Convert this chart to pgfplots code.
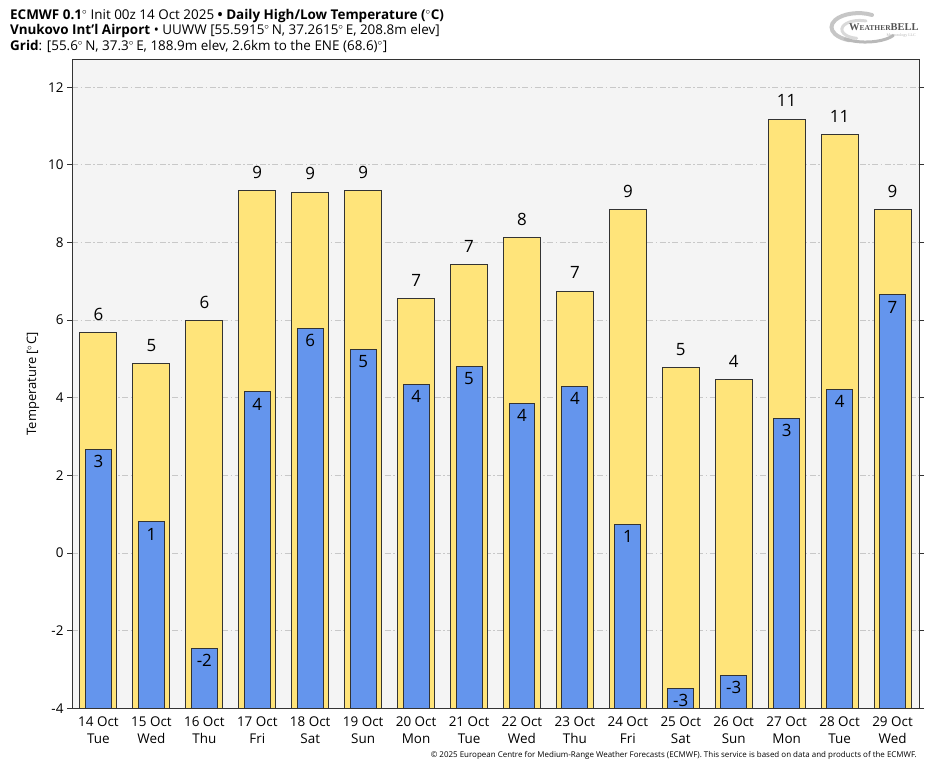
\documentclass[border=0pt]{standalone}
\usepackage{pgfplots}
\usepackage{pgfplotstable}
\pgfplotsset{compat=1.18}
\usepackage{fontspec}
\setmainfont{Open Sans}
\newfontfamily\logofont{Liberation Serif}

\definecolor{hiyel}{HTML}{FFE47A}
\definecolor{loblu}{HTML}{6495ED}
\definecolor{bgpan}{HTML}{F4F4F4}
\definecolor{gridc}{HTML}{C8C8C8}
\definecolor{edgec}{HTML}{333333}

\newcommand{\dg}{$^{\circ}$}

% daily high / low in degC, labels are the rounded values shown on the chart
\pgfplotstableread{
x  h      hl  l      ll
0  5.68   6   2.68   3
1  4.88   5   0.80   1
2  5.99   6  -2.46  -2
3  9.34   9   4.15   4
4  9.30   9   5.79   6
5  9.34   9   5.25   5
6  6.55   7   4.34   4
7  7.44   7   4.81   5
8  8.12   8   3.85   4
9  6.75   7   4.30   4
10 8.84   9   0.74   1
11 4.77   5  -3.49  -3
12 4.47   4  -3.15  -3
13 11.18  11  3.47   3
14 10.77  11  4.21   4
15 8.84   9   6.65   7
}\temps

\begin{document}
\begin{tikzpicture}[x=1bp,y=1bp]
\path (0,0) rectangle (935,768);

% header, one block of three lines
\node[anchor=north west, inner sep=0pt, align=left, font=\fontsize{13.5}{15.6}\selectfont] at (10,759)
  {\textbf{ECMWF 0.1}\dg{} Init 00z 14 Oct 2025 \textbf{•} \textbf{Daily High/Low Temperature (\dg C)}\\
   \textbf{Vnukovo Int'l Airport} • UUWW [55.5915\dg\,N, 37.2615\dg\,E, 208.8m elev]\\
   \textbf{Grid}: [55.6\dg\,N, 37.3\dg\,E, 188.9m elev, 2.6km to the ENE (68.6)\dg]};

% logo
\begin{scope}[line cap=round]
  \draw[gray!45, line width=4bp] (872,753) arc[start angle=60, end angle=250, x radius=27, y radius=14];
  \draw[gray!30, line width=3bp] (866,747) arc[start angle=70, end angle=260, x radius=18, y radius=9];
  \draw[gray!55, line width=3bp] (845,729) arc[start angle=230, end angle=330, x radius=32, y radius=13];
\end{scope}
\node[anchor=base west, inner sep=0pt, text=gray!65!black, font=\logofont\bfseries\fontsize{10.5}{10}\selectfont] at (849,737)
  {W\fontsize{7.5}{7}\selectfont EATHER\fontsize{10.5}{10}\selectfont BELL};
\node[anchor=base east, inner sep=0pt, text=gray!60, font=\logofont\fontsize{4}{4}\selectfont] at (916,731)
  {Meteorology LLC};

% footer
\node[anchor=base east, inner sep=0pt, font=\fontsize{8}{8}\selectfont] at (917,10)
  {© 2025 European Centre for Medium-Range Weather Forecasts (ECMWF). This service is based on data and products of the ECMWF.};

\begin{axis}[
  at={(72bp,59.7bp)}, anchor=south west,
  width=847bp, height=648.6bp, scale only axis,
  xmin=-0.5, xmax=15.5,
  ymin=0, ymax=16.71,
  axis background/.style={fill=bgpan},
  axis line style={draw=edgec, line width=1bp},
  ytick={0,2,...,16},
  yticklabels={-4,-2,0,2,4,6,8,10,12},
  xtick={0,...,15},
  xticklabels={{14 Oct\\Tue},{15 Oct\\Wed},{16 Oct\\Thu},{17 Oct\\Fri},{18 Oct\\Sat},{19 Oct\\Sun},{20 Oct\\Mon},{21 Oct\\Tue},{22 Oct\\Wed},{23 Oct\\Thu},{24 Oct\\Fri},{25 Oct\\Sat},{26 Oct\\Sun},{27 Oct\\Mon},{28 Oct\\Tue},{29 Oct\\Wed}},
  x tick label style={align=center, font=\fontsize{13.5}{16.5}\selectfont},
  y tick label style={font=\fontsize{13.5}{16}\selectfont},
  tick align=outside,
  major tick length=5bp,
  x tick style={draw=none},
  y tick style={draw=edgec, line width=1bp},
  ymajorgrids,
  major grid style={draw=gridc, line width=0.9bp, dash pattern=on 6bp off 2.5bp on 1.5bp off 2.5bp},
  ylabel={Temperature [\dg C]},
  every axis y label/.style={at={(axis description cs:-0.04604,0.5)}, rotate=90, anchor=center, font=\fontsize{13}{15}\selectfont},
  clip=false,
]
\addplot[ybar, bar shift=0pt, bar width=0.70, fill=hiyel, draw=edgec, line width=1bp,
  point meta=explicit symbolic, nodes near coords,
  every node near coord/.append style={anchor=south, inner sep=0pt, yshift=11.7bp, text=black, font=\fontsize{17}{17}\selectfont}]
  table[x=x, y expr=\thisrow{h}+4, meta=hl] {\temps};
\addplot[ybar, bar shift=0pt, bar width=0.49, fill=loblu, draw=edgec, line width=1bp,
  point meta=explicit symbolic, nodes near coords,
  every node near coord/.append style={anchor=north, inner sep=0pt, yshift=-5.7bp, text=black, font=\fontsize{17}{17}\selectfont}]
  table[x=x, y expr=\thisrow{l}+4, meta=ll] {\temps};
\end{axis}
\end{tikzpicture}
\end{document}
